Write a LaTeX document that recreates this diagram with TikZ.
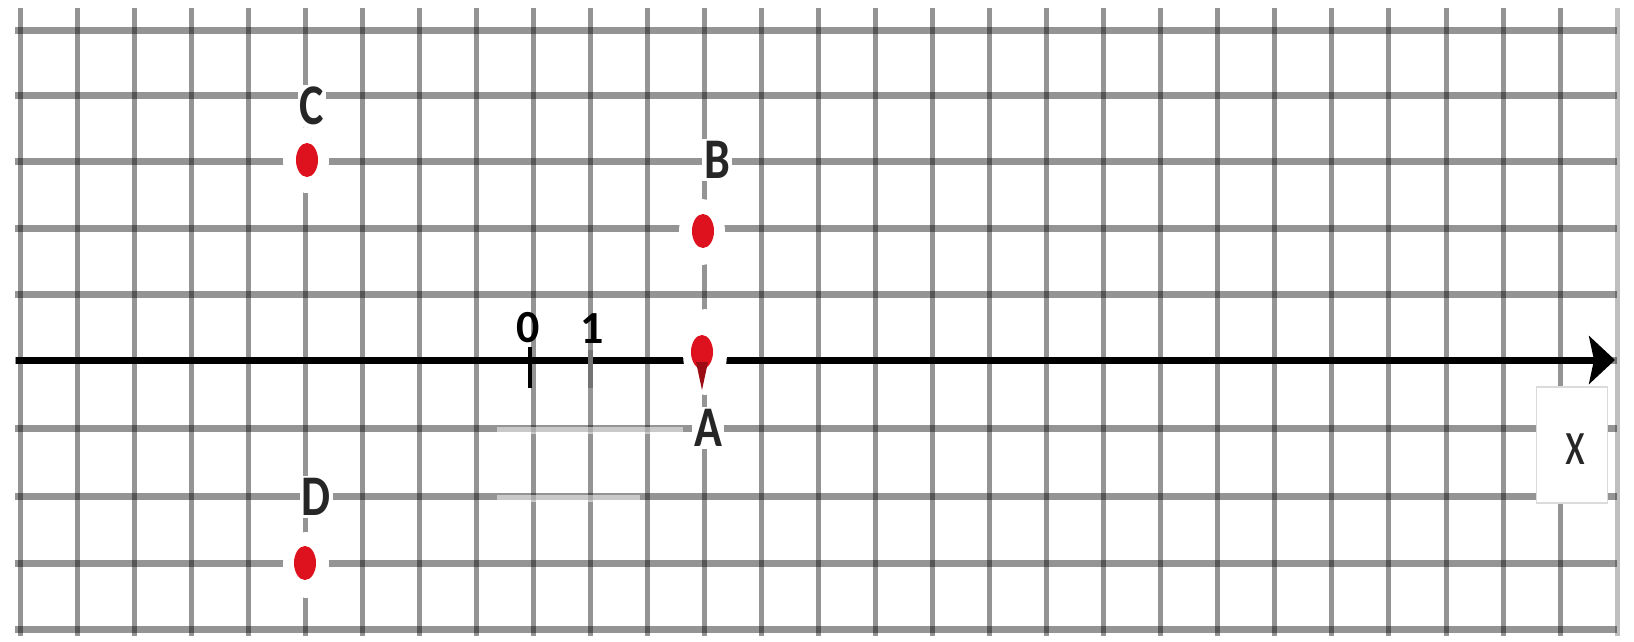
\documentclass[tikz,border=0pt]{standalone}
\usepackage{fontspec}
\setmainfont{Carlito}
\usetikzlibrary{arrows.meta,shapes.geometric}
\definecolor{dotred}{RGB}{222,18,30}
\definecolor{lblgray}{RGB}{38,38,38}
\begin{document}
\begin{tikzpicture}[x=1pt,y=-1pt,
  gridv/.style={line width=5pt,black,opacity=0.42},
  gridh/.style={line width=7pt,black,opacity=0.42},
  gridedge/.style={line width=5pt,black,opacity=0.25},
  fade/.style={line width=7pt,white,opacity=0.5},
  axisline/.style={line width=7pt,black,-{Stealth[length=26pt,width=48pt,inset=5pt]}},
  halo/.style={ellipse,fill=white,draw=none,inner sep=0pt},
  dot/.style={ellipse,fill=dotred,draw=none,inner sep=0pt,minimum width=22pt,minimum height=34pt},
  lbl/.style={font=\fontsize{46}{46}\selectfont\bfseries,text=lblgray,fill=white,inner sep=2pt},
  numlbl/.style={font=\fontsize{46}{46}\selectfont\bfseries,text=black,inner sep=0pt},
  xlbl/.style={font=\fontsize{46}{46}\selectfont,text=lblgray,inner sep=0pt},
  xbox/.style={draw=black!14,fill=white,line width=1.5pt,minimum width=71pt,minimum height=116pt,inner sep=0pt},
  tick0/.style={line width=4.5pt,black},
  tick1/.style={line width=5pt,black!55}
]
\useasboundingbox (0,0) rectangle (1634,641);
\fill[white] (0,0) rectangle (1634,641);

% grid
\foreach \k in {0,...,27}{
  \draw[gridv] ({20+57.04*\k},8) -- ({20+57.04*\k},636);
}
\draw[gridedge] (1617,8) -- (1617,636);
\foreach \yy in {30,95,161,228,294,360,428,496,563,629}{
  \draw[gridh] (15,\yy) -- (1617,\yy);
}
% faded segments
\draw[fade] (497,430) -- (683,430);
\draw[fade] (497,498) -- (640,498);

% axis
\coordinate (axL) at (16,360);
\coordinate (axR) at (1615,360);
\draw[axisline] (axL) -- (axR);

% halos
\node[halo,minimum width=46pt,minimum height=66pt] (hC) at (306,160) {};
\node[halo,minimum width=46pt,minimum height=66pt] (hB) at (702,232) {};
\node[halo,minimum width=46pt,minimum height=66pt] (hD) at (306,565) {};
\node[halo,minimum width=44pt,minimum height=86pt] (hA) at (705,352) {};

% points
\node[dot] (C) at (307,160) {};
\node[dot] (B) at (703,231) {};
\node[dot] (D) at (305,563) {};
\node[dot] (A) at (702,352) {};
\fill[dotred!70!black] (696,362) -- (708,362) -- (702,390) -- cycle;

% point labels
\node[lbl] (Cl) at (312,106) {\scalebox{1}[1.25]{C}};
\node[lbl] (Bl) at (717,160) {\scalebox{1}[1.25]{B}};
\node[lbl] (Al) at (708,428) {\scalebox{1}[1.25]{A}};
\node[lbl] (Dl) at (316,497) {\scalebox{1}[1.25]{D}};

% ticks and numbers
\draw[tick0] (530,347) -- (530,388);
\draw[tick1] (590,350) -- (590,388);
\node[numlbl] (n0) at (528,328) {0};
\node[numlbl] (n1) at (592,329) {1};

% x label box
\node[xbox] (xb) at (1572,445) {};
\node[xlbl] (xl) at (1575,449) {\scalebox{1}[1.4]{x}};
\end{tikzpicture}
\end{document}
